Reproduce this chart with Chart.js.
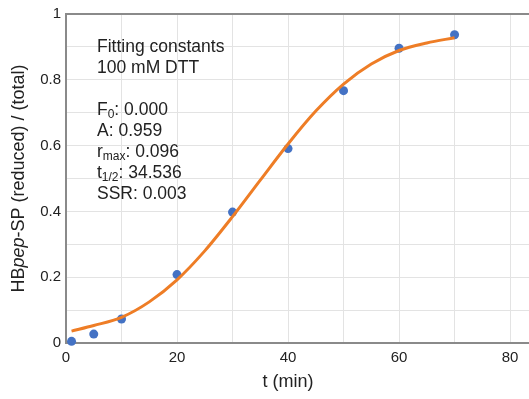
<!DOCTYPE html>
<html>
<head>
<meta charset="utf-8">
<script src="https://cdn.jsdelivr.net/npm/chart.js@4/dist/chart.umd.min.js"></script>
<style>
  html, body { margin: 0; padding: 0; background: #fff; overflow: hidden; }
  canvas { display: block; }
</style>
</head>
<body>
<!-- a few px wider than the window: the plot runs off the right edge like the original -->
<canvas id="chart" width="534" height="399"></canvas>
<script>
const times = [1, 5, 10, 20, 30, 40, 50, 60, 70];
const fractions = [0.005, 0.027, 0.073, 0.208, 0.398, 0.591, 0.767, 0.896, 0.937];

// Fitted curve.
const fitTimes = [1, 5, 10, 15, 20, 25, 30, 35, 40, 45, 50, 55, 60, 65, 70];
const fitValues = [0.036, 0.053, 0.078, 0.125, 0.192, 0.28, 0.384, 0.495, 0.605, 0.705, 0.787, 0.848, 0.889, 0.912, 0.928];

// Axis ticks (labelled ones), gridlines fall every half step.
const xTickLabels = [0, 20, 40, 60, 80];
const yTickLabels = [0, 0.2, 0.4, 0.6, 0.8, 1];

// Fitting constants box: [main, subscript, rest]
const noteLines = [
    ["Fitting constants", "", ""],
    ["100 mM DTT", "", ""],
    null,
    ["F", "0", ": 0.000"],
    ["A: 0.959", "", ""],
    ["r", "max", ": 0.096"],
    ["t", "1/2", ": 34.536"],
    ["SSR: 0.003", "", ""]
];

const FONT = '"Liberation Sans", Arial, Helvetica, sans-serif';
const TEXT = '#222';

// Draws titles and the constants box (mixed styles, so by hand).
const textPlugin = {
    id: 'texts',
    afterDraw(chart) {
        const ctx = chart.ctx;
        const area = chart.chartArea;
        ctx.save();
        ctx.fillStyle = TEXT;

        // x title
        ctx.font = '18px ' + FONT;
        ctx.textAlign = 'center';
        ctx.textBaseline = 'middle';
        ctx.fillText('t (min)', 288, 382);

        // y title with italic "pep"
        let parts = [['HB', ''], ['pep', 'italic '], ['-SP (reduced) / (total)', '']];
        ctx.translate(19, (area.top + area.bottom) / 2);
        ctx.rotate(-Math.PI / 2);
        ctx.textAlign = 'left';
        let total = 0;
        for (const p of parts) {
            ctx.font = p[1] + '18px ' + FONT;
            total += ctx.measureText(p[0]).width;
        }
        let x = -total / 2;
        for (const p of parts) {
            ctx.font = p[1] + '18px ' + FONT;
            ctx.fillText(p[0], x, 0);
            x += ctx.measureText(p[0]).width;
        }
        ctx.restore();

        // constants box
        ctx.save();
        ctx.fillStyle = TEXT;
        ctx.textAlign = 'left';
        ctx.textBaseline = 'alphabetic';
        let y = 52;
        for (const line of noteLines) {
            if (line) {
                let lx = 97;
                ctx.font = '17.5px ' + FONT;
                ctx.fillText(line[0], lx, y);
                lx += ctx.measureText(line[0]).width;
                if (line[1]) {
                    ctx.font = '12px ' + FONT;
                    ctx.fillText(line[1], lx, y + 3);
                    lx += ctx.measureText(line[1]).width;
                }
                ctx.font = '17.5px ' + FONT;
                ctx.fillText(line[2], lx, y);
            }
            y += 21;
        }
        ctx.restore();
    }
};

const chart = new Chart(document.getElementById('chart'), {
    type: 'line',
    data: {
        datasets: [
            {
                label: 'fit',
                data: fitTimes.map((t, i) => ({ x: t, y: fitValues[i] })),
                borderColor: '#EE7D26',
                borderWidth: 3,
                pointRadius: 0,
                fill: false,
                cubicInterpolationMode: 'monotone',
                order: 0
            },
            {
                label: 'data',
                data: times.map((t, i) => ({ x: t, y: fractions[i] })),
                showLine: false,
                pointRadius: 4.5,
                pointBackgroundColor: '#4472C4',
                pointBorderWidth: 0,
                borderColor: '#4472C4',
                clip: false,
                order: 1
            }
        ]
    },
    options: {
        responsive: false,
        animation: false,
        devicePixelRatio: 1,
        layout: { padding: { top: 13, right: 0, bottom: 0, left: 0 } },
        plugins: {
            legend: { display: false },
            tooltip: { enabled: false }
        },
        scales: {
            x: {
                type: 'linear',
                min: 0,
                max: 83.5,
                afterBuildTicks: (scale) => {
                    let ticks = [];
                    for (let v = 0; v <= xTickLabels[xTickLabels.length - 1]; v += 10) ticks.push({ value: v });
                    scale.ticks = ticks;
                },
                afterFit: (scale) => {
                    scale.height = 56;
                },
                ticks: {
                    autoSkip: false,
                    maxRotation: 0,
                    padding: 6,
                    color: TEXT,
                    font: { family: FONT, size: 15 },
                    callback: (v) => xTickLabels.includes(v) ? String(v) : ''
                },
                grid: { color: '#e3e3e3', lineWidth: 1, drawTicks: false },
                border: { color: '#8a8a8a', width: 2 }
            },
            y: {
                type: 'linear',
                min: 0,
                max: 1,
                afterBuildTicks: (scale) => {
                    let ticks = [];
                    for (let i = 0; i <= 10; i++) ticks.push({ value: i / 10 });
                    scale.ticks = ticks;
                },
                afterFit: (scale) => { scale.width = 66; },
                ticks: {
                    autoSkip: false,
                    padding: 5,
                    color: TEXT,
                    font: { family: FONT, size: 15 },
                    callback: (v) => {
                        let hit = yTickLabels.find(t => Math.abs(t - v) < 1e-6);
                        return hit === undefined ? '' : String(hit);
                    }
                },
                grid: {
                    color: (c) => (c.tick && c.tick.value === 1) ? '#8a8a8a' : '#e3e3e3',
                    lineWidth: (c) => (c.tick && c.tick.value === 1) ? 2 : 1,
                    drawTicks: false
                },
                border: { color: '#8a8a8a', width: 2 }
            }
        }
    },
    plugins: [textPlugin]
});
</script>
</body>
</html>
